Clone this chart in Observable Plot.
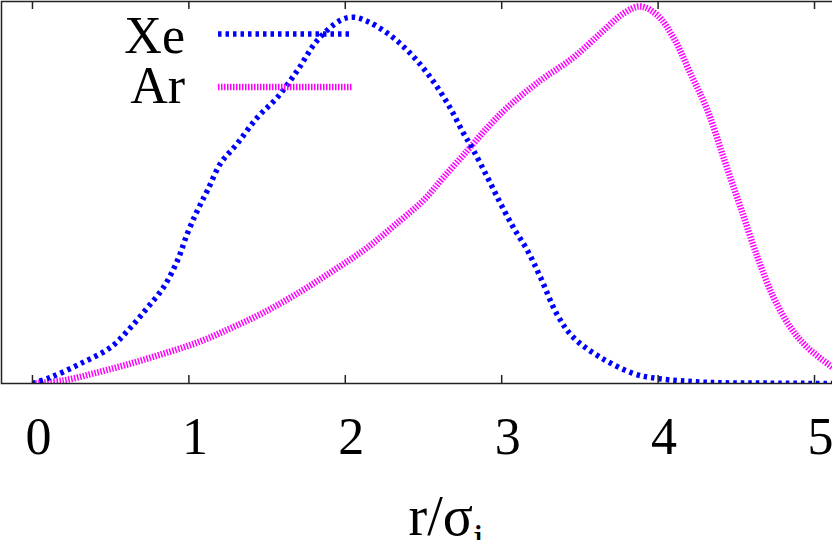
<!DOCTYPE html>
<html>
<head>
<meta charset="utf-8">
<script src="https://cdn.jsdelivr.net/npm/d3@7"></script>
<script src="https://cdn.jsdelivr.net/npm/@observablehq/plot@0.6"></script>
<style>
  html, body { margin: 0; padding: 0; background: #fff; }
  #chart svg { display: block; }
</style>
</head>
<body>
<div id="chart"></div>
<script>
// Series names
const seriesNames = ["Xe", "Ar"];

// Xe curve: r/σi and value
const xeX = [0, 0.115, 0.307, 0.499, 0.627, 0.735, 0.838, 0.927, 0.991, 1.055, 1.119, 1.202, 1.311, 1.439, 1.566, 1.694, 1.822, 1.969, 2.052, 2.142, 2.270, 2.398, 2.526, 2.654, 2.756, 2.820, 2.909, 2.992, 3.075, 3.165, 3.248, 3.357, 3.459, 3.632, 3.843, 3.996, 4.316, 4.7, 5.115];
const xeY = [0, 0.016, 0.052, 0.094, 0.146, 0.198, 0.251, 0.321, 0.392, 0.452, 0.504, 0.574, 0.627, 0.695, 0.747, 0.817, 0.896, 0.948, 0.956, 0.945, 0.914, 0.869, 0.809, 0.731, 0.653, 0.608, 0.538, 0.470, 0.407, 0.347, 0.277, 0.178, 0.120, 0.068, 0.026, 0.013, 0.003, 0.001, 0];

// Ar curve
const arX = [0, 0.198, 0.416, 0.627, 0.838, 1.055, 1.266, 1.477, 1.694, 1.925, 2.142, 2.353, 2.500, 2.628, 2.781, 2.909, 3.037, 3.248, 3.459, 3.632, 3.779, 3.887, 3.996, 4.098, 4.207, 4.316, 4.418, 4.527, 4.636, 4.738, 4.847, 4.955, 5.115];
const arY = [0, 0.008, 0.029, 0.052, 0.078, 0.107, 0.144, 0.185, 0.235, 0.295, 0.355, 0.426, 0.478, 0.538, 0.608, 0.668, 0.721, 0.791, 0.851, 0.914, 0.966, 0.984, 0.961, 0.903, 0.809, 0.713, 0.590, 0.460, 0.329, 0.225, 0.146, 0.094, 0.042];

// Tick labels
const xTicks = [0, 1, 2, 3, 4, 5];
const xLabel = "r/σ";
const xLabelSub = "i";

const xe = xeX.map((x, i) => ({x, y: xeY[i]}));
const ar = arX.map((x, i) => ({x, y: arY[i]}));

const FONT = "'Liberation Serif', 'Times New Roman', serif";
const styles = {
  Xe: {stroke: "#0000ff", strokeWidth: 5.5, strokeDasharray: "3.5 4", strokeLinecap: "butt"},
  Ar: {stroke: "#ff00ff", strokeWidth: 6.5, strokeDasharray: "1.5 1.5", strokeLinecap: "butt"}
};

const chart = Plot.plot({
  width: 832,
  height: 540,
  marginLeft: 1,
  marginRight: 0,
  marginTop: 1,
  marginBottom: 157,
  style: {fontFamily: FONT, fontSize: "52px", color: "#000", background: "#fff"},
  x: {domain: [-0.198, 5.115], ticks: xTicks},
  y: {domain: [0, 0.997], axis: null},
  marks: [
    Plot.line(ar, {x: "x", y: "y", curve: "catmull-rom", clip: true, ...styles.Ar}),
    Plot.line(xe, {x: "x", y: "y", curve: "catmull-rom", clip: true, ...styles.Xe}),
    Plot.frame({stroke: "#222", strokeWidth: 1.5, insetRight: -3}),
    Plot.tickX(xTicks, {x: d => d, stroke: "#222", strokeWidth: 1.5, insetTop: 374}),
    Plot.tickX(xTicks, {x: d => d, stroke: "#222", strokeWidth: 1.5, insetBottom: 374}),
    Plot.axisX(xTicks, {tickSize: 0, tickPadding: 34, dx: 6, fontSize: 52, label: null, tickFormat: d => String(d)}),
    Plot.text([xLabel], {text: d => d, frameAnchor: "bottom-left", dx: 407, dy: 151, fontSize: 56, textAnchor: "start", lineAnchor: "bottom"})
  ]
});

document.getElementById("chart").appendChild(chart);

const svg = d3.select(chart);

// Subscript on axis label
svg.selectAll("text").filter(function() { return this.textContent === xLabel; })
  .each(function() {
    const t = d3.select(this);
    t.append("tspan").attr("dy", "0.42em").attr("font-size", "40px").text(xLabelSub);
  });

// Legend
const legend = svg.append("g").attr("font-family", FONT).attr("font-size", 52);
const legendRows = [{name: seriesNames[0], ty: 53, ly: 34}, {name: seriesNames[1], ty: 103, ly: 87}];
legendRows.forEach(r => {
  legend.append("text").attr("x", 185).attr("y", r.ty).attr("text-anchor", "end").text(r.name);
  const s = styles[r.name];
  legend.append("line").attr("x1", 218).attr("x2", 353).attr("y1", r.ly).attr("y2", r.ly)
    .attr("stroke", s.stroke).attr("stroke-width", s.strokeWidth).attr("stroke-dasharray", s.strokeDasharray);
});
</script>
</body>
</html>
